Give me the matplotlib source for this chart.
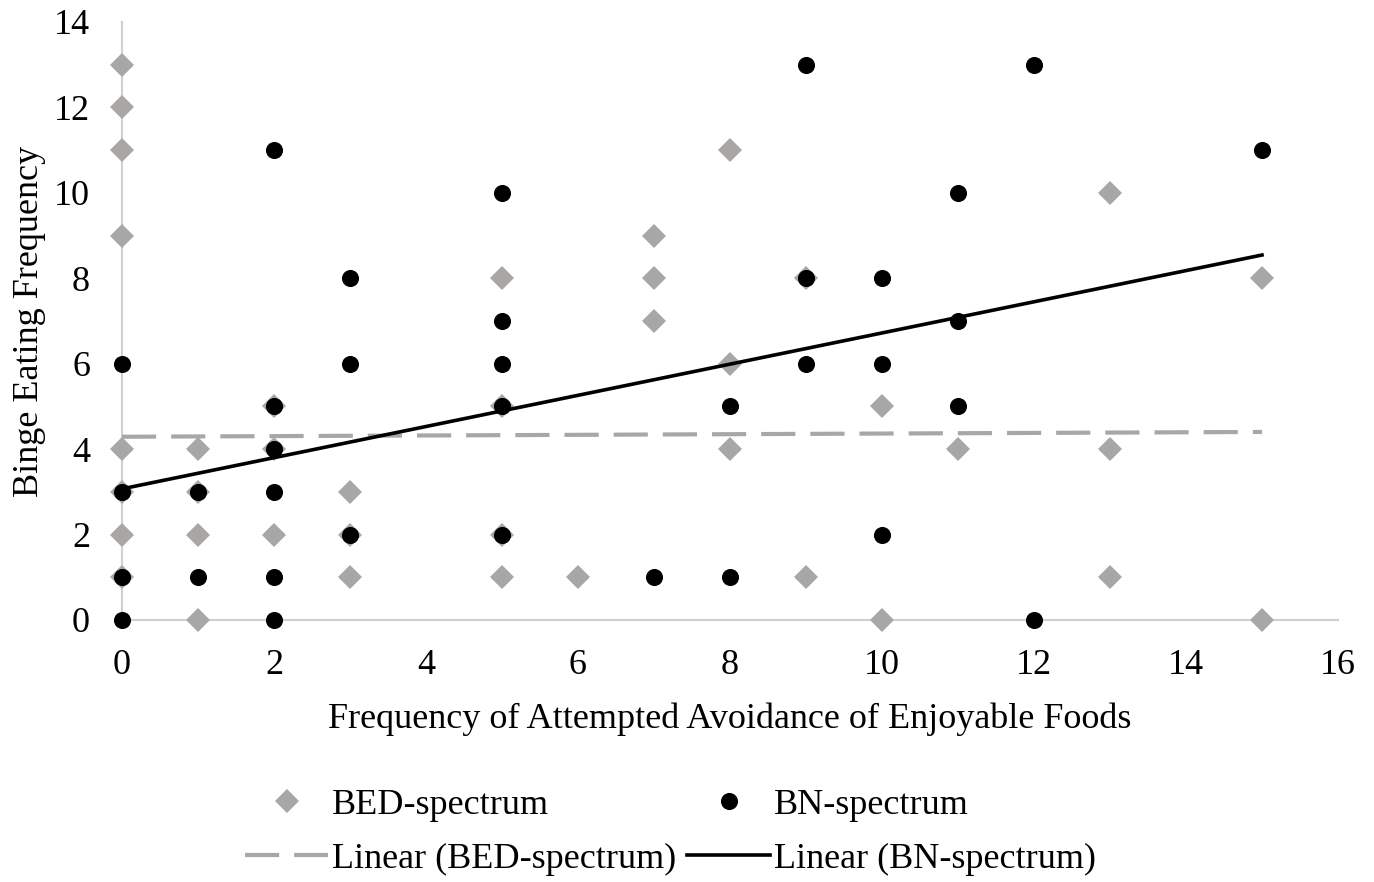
import matplotlib
matplotlib.use("Agg")
import matplotlib.pyplot as plt
import numpy as np

# BED-spectrum (grey diamonds)
bed_x = [0, 0, 0, 0, 0, 0, 0, 0,
         1, 1, 1, 1,
         2, 2, 2,
         3, 3, 3,
         5, 5, 5, 5,
         6,
         7, 7, 7,
         8, 8, 8,
         9, 9,
         10, 10,
         11,
         13, 13, 13,
         15, 15]
bed_y = [13, 12, 11, 9, 4, 3, 2, 1,
         4, 3, 2, 0,
         5, 4, 2,
         3, 2, 1,
         8, 5, 2, 1,
         1,
         9, 8, 7,
         11, 6, 4,
         8, 1,
         5, 0,
         4,
         10, 4, 1,
         8, 0]

# BN-spectrum (black circles)
bn_x = [0, 0, 0, 0,
        1, 1,
        2, 2, 2, 2, 2, 2,
        3, 3, 3,
        5, 5, 5, 5, 5,
        7,
        8, 8,
        9, 9, 9,
        10, 10, 10,
        11, 11, 11,
        12, 12,
        15]
bn_y = [6, 3, 1, 0,
        3, 1,
        11, 5, 4, 3, 1, 0,
        8, 6, 2,
        10, 7, 6, 5, 2,
        1,
        5, 1,
        13, 8, 6,
        8, 6, 2,
        10, 7, 5,
        13, 0,
        11]

# Linear trendline coefficients (intercept, slope)
bed_trend = (4.29, 0.0075)
bn_trend = (3.07, 0.365)
trend_range = (0, 15)

xticks = [0, 2, 4, 6, 8, 10, 12, 14, 16]
yticks = [0, 2, 4, 6, 8, 10, 12, 14]

GREY = "#a9a7a6"
plt.rcParams['font.family'] = ['Liberation Serif', 'DejaVu Serif']
FS = 26

fig = plt.figure(figsize=(13.74, 8.82), dpi=100)
ax = fig.add_axes([122/1374, 1-620/882, (1338-122)/1374, (620-22)/882])

ax.plot(bed_x, bed_y, linestyle='none', marker='D', markersize=12,
        color=GREY, markeredgewidth=0, label='BED-spectrum', zorder=3,
        clip_on=False)
ax.plot(bn_x, bn_y, linestyle='none', marker='o', markersize=12.3,
        color='black', markeredgewidth=0, label='BN-spectrum', zorder=4,
        clip_on=False)

tx = np.array(trend_range, dtype=float)
ax.plot(tx, bed_trend[0] + bed_trend[1]*tx, color=GREY, lw=3,
        dashes=(8.2, 3.6), label='Linear (BED-spectrum)', zorder=5)
ax.plot(tx, bn_trend[0] + bn_trend[1]*tx, color='black', lw=2.6,
        label='Linear (BN-spectrum)', zorder=6)

ax.set_xlim(0, 16)
ax.set_ylim(0, 14)
ax.set_xticks(xticks)
ax.set_yticks(yticks)
ax.tick_params(length=0, labelsize=FS, colors='#000000')
ax.tick_params(axis='x', pad=21)
ax.tick_params(axis='y', pad=23)
for s in ['top', 'right']:
    ax.spines[s].set_visible(False)
for s in ['left', 'bottom']:
    ax.spines[s].set_color('#d0d0d0')
    ax.spines[s].set_linewidth(1.5)
    ax.spines[s].set_zorder(1)

ax.set_xlabel('Frequency of Attempted Avoidance of Enjoyable Foods', fontsize=FS, labelpad=15)
ax.set_ylabel('Binge Eating Frequency', fontsize=FS, labelpad=6)

h, l = ax.get_legend_handles_labels()
order = [0, 2, 1, 3]
leg = fig.legend([h[i] for i in order], [l[i] for i in order],
                 loc='center', bbox_to_anchor=(0.488, 1-832/882), ncol=2,
                 frameon=False, fontsize=FS, handlelength=2.3,
                 handletextpad=0.1, columnspacing=0.3, labelspacing=0.58)

fig.savefig('out.png', dpi=100)
